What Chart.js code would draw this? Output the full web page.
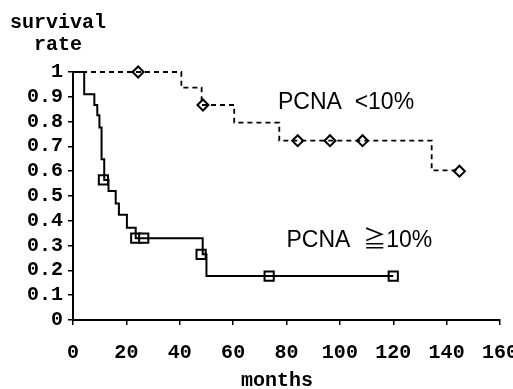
<!DOCTYPE html>
<html>
<head>
<meta charset="utf-8">
<script src="https://cdn.jsdelivr.net/npm/chart.js@4.4.1/dist/chart.umd.min.js"></script>
<style>
  html, body { margin: 0; padding: 0; background: #fff; }
  #wrap { width: 513px; height: 389px; }
</style>
</head>
<body>
<div id="wrap"><canvas id="kmChart" width="513" height="389"></canvas></div>
<script>
/* ticks */
const xTicks = [0, 20, 40, 60, 80, 100, 120, 140, 160];
const yTicks = [0, 0.1, 0.2, 0.3, 0.4, 0.5, 0.6, 0.7, 0.8, 0.9, 1];
const yTickLabels = ["0", "0.1", "0.2", "0.3", "0.4", "0.5", "0.6", "0.7", "0.8", "0.9", "1"];

/* PCNA >=10% (solid) */
const highMonths = [0, 4.2, 8, 9.1, 9.9, 10.7, 11.7, 13.3, 16, 17.2, 20.2, 23.5, 48.6, 50, 120];
const highSurv = [1, 0.91, 0.867, 0.826, 0.776, 0.648, 0.565, 0.52, 0.47, 0.424, 0.372, 0.33, 0.265, 0.177, 0.177];
const highCensMonths = [11.4, 23.5, 26.5, 48, 73.5, 120];
const highCensSurv = [0.565, 0.33, 0.33, 0.265, 0.177, 0.177];

/* PCNA <10% (dashed) */
const lowMonths = [0, 40.6, 48.2, 60.4, 77.3, 134.4, 144.8];
const lowSurv = [1, 0.937, 0.867, 0.796, 0.723, 0.603, 0.603];
const lowCensMonths = [24.4, 48.7, 84.2, 96.3, 108.5, 144.8];
const lowCensSurv = [1, 0.867, 0.723, 0.723, 0.723, 0.6];

function pts(xs, ys) {
  return xs.map((x, i) => ({ x: x, y: ys[i] }));
}

const monoBold = { family: "'Liberation Mono', 'Courier New', monospace", size: 20, weight: "bold" };

const textPlugin = {
  id: "texts",
  afterDraw(chart) {
    const ctx = chart.ctx;
    const xs = chart.scales.x;
    const ys = chart.scales.y;
    ctx.save();
    ctx.fillStyle = "#000";
    ctx.textBaseline = "middle";
    ctx.textAlign = "center";
    ctx.font = "bold 20px 'Liberation Mono', monospace";
    ctx.fillText("survival", 58, 23);
    ctx.fillText("rate", 58, 45);
    ctx.fillText("months", 277, 381);

    ctx.textAlign = "left";
    ctx.font = "23px 'Liberation Sans', 'Noto Sans CJK JP', sans-serif";
    ctx.fillText("PCNA  <10%", xs.getPixelForValue(76.8), ys.getPixelForValue(0.876));
    ctx.fillText("PCNA  \u226710%", xs.getPixelForValue(80), ys.getPixelForValue(0.32));
    ctx.restore();
  }
};

const ctx = document.getElementById("kmChart").getContext("2d");
const kmChart = new Chart(ctx, {
  type: "scatter",
  data: {
    datasets: [
      {
        label: "PCNA <10%",
        data: pts(lowMonths, lowSurv),
        showLine: true,
        stepped: "before",
        borderColor: "#000",
        borderWidth: 1.8,
        borderDash: [5, 4],
        pointRadius: 0,
        clip: false,
      },
      {
        label: "PCNA >=10%",
        data: pts(highMonths, highSurv),
        showLine: true,
        stepped: "before",
        borderColor: "#000",
        borderWidth: 2,
        pointRadius: 0,
        clip: false,
      },
      {
        label: "censored <10%",
        data: pts(lowCensMonths, lowCensSurv),
        showLine: false,
        pointStyle: "rectRot",
        pointRadius: 5.5,
        pointBorderWidth: 2,
        pointBorderColor: "#000",
        pointBackgroundColor: "#fff",
        clip: false,
      },
      {
        label: "censored >=10%",
        data: pts(highCensMonths, highCensSurv),
        showLine: false,
        pointStyle: "rect",
        pointRadius: 6.5,
        pointBorderWidth: 2,
        pointBorderColor: "#000",
        pointBackgroundColor: "#fff",
        clip: false,
      },
    ],
  },
  options: {
    responsive: false,
    animation: false,
    layout: { padding: { top: 72, right: 13, left: 0, bottom: 0 } },
    plugins: {
      legend: { display: false },
      tooltip: { enabled: false },
    },
    scales: {
      x: {
        type: "linear",
        min: 0,
        max: 160,
        afterBuildTicks: (s) => { s.ticks = xTicks.map((v) => ({ value: v })); },
        afterFit: (s) => { s.height = 69; s.paddingLeft = 0; s.paddingRight = 0; },
        ticks: {
          color: "#000",
          font: monoBold,
          padding: 16,
          maxRotation: 0,
          autoSkip: false,
        },
        grid: { drawOnChartArea: false, tickLength: 5, color: "#000", lineWidth: 1.5 },
        border: { color: "#000", width: 2 },
      },
      y: {
        min: 0,
        max: 1,
        afterBuildTicks: (s) => { s.ticks = yTicks.map((v) => ({ value: v })); },
        afterFit: (s) => { s.width = 73; s.paddingTop = 0; s.paddingBottom = 0; },
        ticks: {
          color: "#000",
          font: monoBold,
          padding: 5,
          autoSkip: false,
          callback: (v) => yTickLabels[yTicks.indexOf(Math.round(v * 10) / 10)],
        },
        grid: { drawOnChartArea: false, tickLength: 5, color: "#000", lineWidth: 1.5 },
        border: { color: "#000", width: 2 },
      },
    },
  },
  plugins: [textPlugin],
});
</script>
</body>
</html>
